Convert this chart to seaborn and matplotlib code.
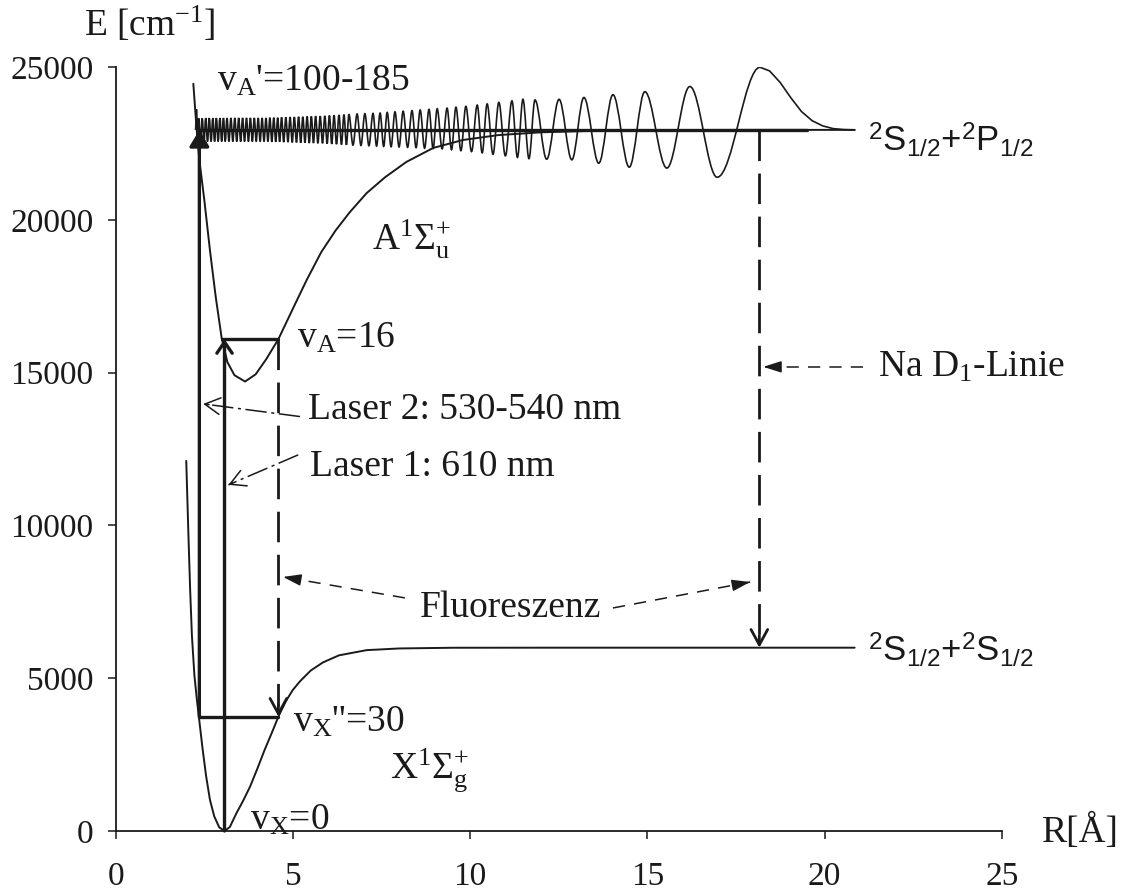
import matplotlib
matplotlib.use("Agg")
import matplotlib.pyplot as plt
import seaborn as sns
import pandas as pd
from matplotlib.path import Path
from matplotlib.patches import PathPatch

# ---------------- potential curves of Na2 (R in Angstrom, E in cm^-1) ----------------
x_R = [1.99, 2.05, 2.10, 2.15, 2.22, 2.29, 2.36, 2.45, 2.55, 2.66, 2.78, 2.92, 3.07,
       3.22, 3.41, 3.60, 3.79, 4.00, 4.20, 4.40, 4.59, 4.80, 5.00, 5.20, 5.50, 5.85,
       6.30, 7.08, 8.00, 9.50, 12.0, 20.85]
x_E = [12115, 9750, 7900, 6400, 5100, 4300, 3600, 2700, 1800, 1015, 480, 120, 0,
       130, 590, 1000, 1450, 2050, 2650, 3200, 3743, 4250, 4620, 4900, 5250, 5520,
       5750, 5920, 5975, 5998, 6000, 6000]

a_R = [2.19, 2.25, 2.30, 2.36, 2.50, 2.66, 2.82, 2.99, 3.15, 3.35, 3.65, 3.95, 4.25,
       4.59, 5.00, 5.39, 5.80, 6.20, 6.60, 7.08, 7.60, 8.20, 8.96, 9.80, 10.8, 12.0,
       13.5, 15.5, 18.0, 20.85]
a_E = [24460, 23500, 22750, 21970, 20650, 19000, 17500, 16130, 15350, 14920, 14712,
       14950, 15450, 16100, 17100, 18040, 18950, 19650, 20250, 20880, 21400, 21900,
       22360, 22620, 22780, 22870, 22920, 22945, 22950, 22950]

# successive extrema of the highly excited A-state wavefunction
wave_R = [2.25, 2.28, 2.31, 2.34, 2.39, 2.44, 2.49, 2.54, 2.59, 2.64, 2.69, 2.74,
          2.79, 2.84, 2.89, 2.94, 2.99, 3.04, 3.09, 3.14, 3.195, 3.25, 3.305, 3.36,
          3.415, 3.47, 3.525, 3.58, 3.635, 3.69, 3.745, 3.80, 3.855, 3.91, 3.965,
          4.02, 4.075, 4.13, 4.185, 4.24, 4.295, 4.35, 4.405, 4.46, 4.515, 4.57,
          4.625, 4.68, 4.74, 4.80, 4.86, 4.92, 4.98, 5.04, 5.10, 5.16, 5.22, 5.28,
          5.34, 5.40, 5.46, 5.52, 5.58, 5.64, 5.705, 5.77, 5.835, 5.90, 5.965, 6.03,
          6.095, 6.16, 6.23, 6.30, 6.37, 6.44, 6.51, 6.58, 6.695, 6.81, 6.92, 7.03,
          7.145, 7.26, 7.36, 7.46, 7.56, 7.66, 7.77, 7.88, 7.995, 8.11, 8.235, 8.36,
          8.475, 8.59, 8.715, 8.84, 8.955, 9.07, 9.21, 9.35, 9.475, 9.60, 9.74, 9.88,
          10.04, 10.20, 10.34, 10.48, 10.645, 10.81, 10.995, 11.18, 11.335, 11.49,
          11.66, 11.83, 12.16, 12.51, 12.87, 13.21, 13.63, 14.03, 14.49, 14.93,
          15.55, 16.20, 16.97, 18.18]
wave_E = [22950, 23620, 22560, 23330, 22570, 23330, 22570, 23340, 22570, 23340,
          22570, 23340, 22570, 23340, 22570, 23340, 22570, 23340, 22570, 23340,
          22570, 23340, 22570, 23340, 22570, 23340, 22570, 23340, 22570, 23340,
          22570, 23340, 22570, 23340, 22570, 23340, 22570, 23340, 22570, 23340,
          22570, 23350, 22560, 23350, 22560, 23350, 22560, 23360, 22550, 23360,
          22550, 23370, 22540, 23370, 22540, 23380, 22530, 23380, 22530, 23390,
          22520, 23390, 22520, 23400, 22510, 23400, 22510, 23410, 22500, 23420,
          22490, 23430, 22480, 23440, 22470, 23450, 22460, 23460, 22450, 23470,
          22440, 23480, 22430, 23490, 22420, 23500, 22410, 23520, 22400, 23540,
          22390, 23560, 22380, 23580, 22370, 23600, 22350, 23620, 22340, 23640,
          22330, 23660, 22300, 23690, 22270, 23720, 22240, 23760, 22200, 23800,
          22150, 23850, 22100, 23900, 22050, 23950, 22010, 23930, 21990, 23950,
          21970, 24010, 21860, 24100, 21730, 24200, 21700, 24370, 21400, 25000]
# evanescent tail beyond the outer turning point
tail_R = [18.18, 18.45, 18.75, 19.05, 19.35, 19.65, 19.95, 20.25, 20.55, 20.85]
tail_E = [25000, 24880, 24500, 24000, 23550, 23250, 23080, 22990, 22960, 22950]

# vibrational levels
lvl_A_high = 22950   # v_A' near the 2S1/2 + 2P1/2 limit
lvl_A16 = 16100      # v_A = 16
lvl_X30 = 3743       # v_X'' = 30
R_laser2, R_laser1, R_fluor, R_d1 = 2.36, 3.07, 4.59, 18.16
asym_P, asym_S = 22950, 6000

# ---------------- figure ----------------
sns.set_theme(style="ticks")
plt.rcParams["font.family"] = ["Liberation Serif", "DejaVu Serif"]
plt.rcParams["mathtext.fontset"] = "custom"
plt.rcParams["mathtext.rm"] = "Liberation Serif"
plt.rcParams["mathtext.it"] = "Liberation Serif:italic"
plt.rcParams["mathtext.sf"] = "Liberation Sans"

fig = plt.figure(figsize=(11.3, 8.92), dpi=100)
ax = fig.add_axes([0.1024, 0.0684, 0.7841, 0.8562])
ax.set_facecolor("white")
fig.patch.set_facecolor("white")

K = "#1a1a1a"
sns.lineplot(x=x_R, y=x_E, ax=ax, sort=False, estimator=None, color=K, lw=1.4)
sns.lineplot(x=a_R, y=a_E, ax=ax, sort=False, estimator=None, color=K, lw=1.4)

# wavefunction: smooth half-waves between successive extrema
verts = [(wave_R[0], wave_E[0])]
codes = [Path.MOVETO]
for i in range(1, len(wave_R)):
    r0, e0, r1, e1 = wave_R[i - 1], wave_E[i - 1], wave_R[i], wave_E[i]
    d = r1 - r0
    verts += [(r0 + 0.36 * d, e0), (r1 - 0.36 * d, e1), (r1, e1)]
    codes += [Path.CURVE4] * 3
ax.add_patch(PathPatch(Path(verts, codes), fill=False, lw=1.2, color=K))
sns.lineplot(x=tail_R, y=tail_E, ax=ax, sort=False, estimator=None, color=K, lw=1.2)

# level lines
ax.plot([R_laser2, 19.5], [lvl_A_high, lvl_A_high], color=K, lw=2.4)
ax.plot([2.99, R_fluor], [lvl_A16, lvl_A16], color=K, lw=2.4)
ax.plot([R_laser2, R_fluor], [lvl_X30, lvl_X30], color=K, lw=2.4)

# laser excitations
ax.annotate("", xy=(R_laser2, lvl_A_high), xytext=(R_laser2, lvl_X30),
            arrowprops=dict(arrowstyle="-|>,head_length=1.0,head_width=0.6",
                            lw=2.4, color=K, shrinkA=0, shrinkB=0, mutation_scale=10))
ax.annotate("", xy=(R_laser1, lvl_A16), xytext=(R_laser1, 0),
            arrowprops=dict(arrowstyle="->,head_length=0.8,head_width=0.55",
                            lw=2.4, color=K, shrinkA=0, shrinkB=0, mutation_scale=10))

# fluorescence lines (dashed, open head at bottom)
dash = (0, (11, 4.5))
for r, top, bot in [(R_fluor, lvl_A16, lvl_X30), (R_d1, asym_P, asym_S)]:
    ax.plot([r, r], [top, bot + 350], color=K, lw=2.0, linestyle=dash)
    ax.annotate("", xy=(r, bot), xytext=(r, bot + 400),
                arrowprops=dict(arrowstyle="->,head_length=1.1,head_width=0.6",
                                lw=2.0, color=K, shrinkA=0, shrinkB=0, mutation_scale=10))


def pointer(start, tip, ls, head, lw=1.1):
    ax.plot([start[0], tip[0]], [start[1], tip[1]], color=K, lw=lw, linestyle=ls)
    near = (tip[0] + 0.06 * (start[0] - tip[0]), tip[1] + 0.06 * (start[1] - tip[1]))
    ax.annotate("", xy=tip, xytext=near,
                arrowprops=dict(arrowstyle=head, lw=lw, color=K, shrinkA=0,
                                shrinkB=0, mutation_scale=10))


dashdot = (0, (14, 3, 2, 3))
pointer((5.20, 13566), (2.47, 13980), dashdot, "->,head_length=1.1,head_width=0.6")
pointer((5.15, 12312), (3.18, 11330), dashdot, "->,head_length=1.1,head_width=0.6")
thin_dash = (0, (8, 6))
pointer((8.16, 7630), (4.72, 8317), thin_dash, "-|>,head_length=1.1,head_width=0.35")
pointer((14.03, 7300), (17.90, 8150), thin_dash, "-|>,head_length=1.1,head_width=0.35")
pointer((21.09, 15193), (18.27, 15193), thin_dash, "-|>,head_length=1.1,head_width=0.35")

# axes
ax.set_xlim(0, 25)
ax.set_ylim(0, 25000)
ax.set_xticks([0, 5, 10, 15, 20, 25])
ax.set_yticks([0, 5000, 10000, 15000, 20000, 25000])
for s in ["top", "right"]:
    ax.spines[s].set_visible(False)
for s in ["left", "bottom"]:
    ax.spines[s].set_color(K)
    ax.spines[s].set_linewidth(1.3)
ax.tick_params(axis="both", direction="out", length=6, width=1.1, colors=K,
               labelsize=24, labelcolor=K)
ax.tick_params(axis="x", pad=16)
ax.tick_params(axis="y", pad=10)
ax.set_xlabel("")
ax.set_ylabel("")

fs = 27
txt = dict(color=K, fontsize=fs, va="center", ha="left", clip_on=False)
ax.text(0.97, 26390, r"E [cm$^\mathregular{-1}$]", ha="center", va="center",
        color=K, fontsize=fs, clip_on=False)
ax.text(26.14, -30, "R[Å]", **txt)
ax.text(2.86, 24525, r"v$_\mathregular{A}$'=100-185", **txt)
ax.text(7.23, 19350, r"A$^\mathregular{1}$Σ$^\mathregular{+}_\mathregular{u}$", **txt)
ax.text(5.12, 16140, r"v$_\mathregular{A}$=16", **txt)
ax.text(5.43, 13785, "Laser 2: 530-540 nm", **txt)
ax.text(5.48, 11920, "Laser 1: 610 nm", **txt)
ax.text(21.51, 15190, r"Na D$_\mathregular{1}$-Linie", **txt)
ax.text(8.59, 7300, "Fluoreszenz", **txt)
ax.text(5.0, 3570, r"v$_\mathregular{X}$''=30", **txt)
ax.text(7.74, 2000, r"X$^\mathregular{1}$Σ$^\mathregular{+}_\mathregular{g}$", **txt)
ax.text(3.79, 360, r"v$_\mathregular{X}$=0", **txt)

sans = dict(color=K, fontsize=25, va="center", ha="left", clip_on=False,
            family=["Liberation Sans Narrow", "Liberation Sans"])
ax.text(21.23, 22625, r"$^\mathregular{2}$S$_\mathregular{1/2}$+$^\mathregular{2}$P$_\mathregular{1/2}$", **sans)
ax.text(21.23, 5930, r"$^\mathregular{2}$S$_\mathregular{1/2}$+$^\mathregular{2}$S$_\mathregular{1/2}$", **sans)

fig.savefig("out.png", dpi=100, facecolor="white")
